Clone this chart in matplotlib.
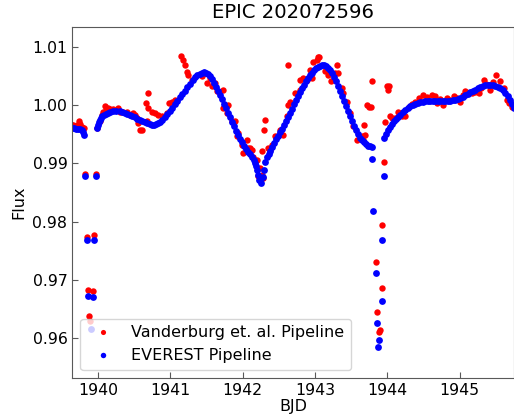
import matplotlib
matplotlib.use("Agg")
import matplotlib.pyplot as plt

# EVEREST light curve
everest_t = [
    1939.636, 1939.665, 1939.690, 1939.720, 1939.745, 1939.770, 1939.790, 1939.810,
    # points in the data gap
    1939.816, 1939.968, 1939.839, 1939.940, 1939.861, 1939.922, 1939.899,
    # second segment
    1939.982, 1939.996, 1940.010, 1940.024, 1940.037, 1940.058, 1940.079, 1940.107,
    1940.134, 1940.169, 1940.204, 1940.252, 1940.301, 1940.335, 1940.370, 1940.404,
    1940.439, 1940.474, 1940.508, 1940.543, 1940.578, 1940.612, 1940.647, 1940.681,
    1940.716, 1940.744, 1940.771, 1940.799, 1940.827, 1940.855, 1940.889, 1940.924,
    1940.958, 1940.993, 1941.028, 1941.062, 1941.097, 1941.132, 1941.166, 1941.201,
    1941.235, 1941.270, 1941.305, 1941.339, 1941.374, 1941.408, 1941.436, 1941.464,
    1941.491, 1941.519, 1941.547, 1941.575, 1941.602, 1941.630, 1941.658, 1941.685,
    1941.713, 1941.741, 1941.769, 1941.796, 1941.824, 1941.852, 1941.880, 1941.907,
    1941.935, 1941.963, 1941.990, 1942.018, 1942.046, 1942.073, 1942.101, 1942.129,
    1942.150, 1942.170, 1942.184, 1942.198, 1942.212, 1942.226, 1942.253, 1942.281,
    1942.295, 1942.309, 1942.337, 1942.357, 1942.378, 1942.405, 1942.433, 1942.461,
    1942.489, 1942.516, 1942.544, 1942.572, 1942.600, 1942.627, 1942.655, 1942.683,
    1942.710, 1942.738, 1942.766, 1942.793, 1942.821, 1942.849, 1942.877, 1942.904,
    1942.932, 1942.960, 1942.987, 1943.015, 1943.043, 1943.070, 1943.098, 1943.126,
    1943.153, 1943.181, 1943.209, 1943.236, 1943.264, 1943.292, 1943.320, 1943.347,
    1943.375, 1943.403, 1943.431, 1943.458, 1943.486, 1943.514, 1943.541, 1943.569,
    1943.597, 1943.624, 1943.652, 1943.680, 1943.708, 1943.735, 1943.763, 1943.784,
    # points in the second gap
    1943.795, 1943.953, 1943.805, 1943.929, 1943.846, 1943.929, 1943.856, 1943.892, 1943.874,
    # third segment
    1943.957, 1943.985, 1944.013, 1944.040, 1944.068, 1944.096, 1944.124, 1944.151,
    1944.179, 1944.213, 1944.248, 1944.282, 1944.317, 1944.352, 1944.386, 1944.421,
    1944.456, 1944.490, 1944.525, 1944.559, 1944.594, 1944.629, 1944.663, 1944.698,
    1944.733, 1944.767, 1944.802, 1944.836, 1944.871, 1944.906, 1944.940, 1944.975,
    1945.009, 1945.044, 1945.079, 1945.113, 1945.148, 1945.183, 1945.217, 1945.252,
    1945.286, 1945.321, 1945.356, 1945.390, 1945.425, 1945.460, 1945.494, 1945.529,
    1945.564, 1945.598, 1945.633, 1945.667, 1945.702, 1945.730, 1945.757,
]
everest_f = [
    0.99613, 0.99605, 0.99596, 0.99596, 0.99588, 0.99579, 0.99545, 0.99493,
    0.98777, 0.98777, 0.97689, 0.97689, 0.96732, 0.96698, 0.96160,
    0.99613, 0.99665, 0.99717, 0.99751, 0.99777, 0.99811, 0.99837, 0.99854,
    0.99871, 0.99888, 0.99906, 0.99906, 0.99897, 0.99880, 0.99863, 0.99845,
    0.99828, 0.99811, 0.99794, 0.99772, 0.99751, 0.99729, 0.99708, 0.99691,
    0.99674, 0.99665, 0.99665, 0.99674, 0.99694, 0.99717, 0.99751, 0.99794,
    0.99845, 0.99906, 0.99960, 1.00017, 1.00077, 1.00137, 1.00192, 1.00249,
    1.00309, 1.00369, 1.00426, 1.00481, 1.00515, 1.00541, 1.00558, 1.00567,
    1.00558, 1.00541, 1.00507, 1.00455, 1.00387, 1.00318, 1.00249, 1.00180,
    1.00103, 1.00026, 0.99948, 0.99871, 0.99794, 0.99717, 0.99639, 0.99562,
    0.99493, 0.99424, 0.99364, 0.99304, 0.99253, 0.99201, 0.99158, 0.99115,
    0.99064, 0.99012, 0.98952, 0.98892, 0.98806, 0.98720, 0.98669, 0.98772,
    0.98892, 0.99029, 0.99115, 0.99167, 0.99218, 0.99287, 0.99356, 0.99416,
    0.99476, 0.99536, 0.99596, 0.99660, 0.99725, 0.99794, 0.99863, 0.99940,
    1.00017, 1.00089, 1.00163, 1.00227, 1.00292, 1.00352, 1.00412, 1.00464,
    1.00515, 1.00558, 1.00601, 1.00632, 1.00661, 1.00679, 1.00687, 1.00684,
    1.00670, 1.00644, 1.00610, 1.00553, 1.00490, 1.00412, 1.00335, 1.00249,
    1.00163, 1.00077, 0.99991, 0.99906, 0.99820, 0.99734, 0.99648, 0.99570,
    0.99502, 0.99445, 0.99399, 0.99361, 0.99330, 0.99308, 0.99296, 0.99287,
    0.99081, 0.98789, 0.98187, 0.97689, 0.97127, 0.96641, 0.96251, 0.95966, 0.95839,
    0.99442, 0.99510, 0.99579, 0.99631, 0.99682, 0.99725, 0.99768, 0.99802,
    0.99837, 0.99880, 0.99923, 0.99954, 0.99983, 1.00005, 1.00026, 1.00040,
    1.00052, 1.00060, 1.00069, 1.00074, 1.00077, 1.00077, 1.00077, 1.00077,
    1.00077, 1.00074, 1.00074, 1.00074, 1.00077, 1.00084, 1.00094, 1.00108,
    1.00129, 1.00149, 1.00172, 1.00198, 1.00223, 1.00246, 1.00266, 1.00289,
    1.00309, 1.00326, 1.00344, 1.00352, 1.00352, 1.00347, 1.00335, 1.00318,
    1.00292, 1.00258, 1.00215, 1.00158, 1.00094, 1.00026, 0.99957,
]

# Vanderburg et al. light curve (visible points)
vand_t = [
    1939.636, 1939.657, 1939.677, 1939.705, 1939.737, 1939.753, 1939.774, 1939.802,
    1939.816, 1939.968, 1939.843, 1939.940, 1939.857, 1939.927, 1939.875, 1939.892,
    1939.978, 1940.024, 1940.047, 1940.065, 1940.093, 1940.107, 1940.134, 1940.162,
    1940.208, 1940.245, 1940.277, 1940.301, 1940.342, 1940.393, 1940.439, 1940.481,
    1940.508, 1940.532, 1940.554, 1940.578, 1940.601, 1940.661, 1940.670, 1940.693,
    1940.693, 1940.740, 1940.785, 1940.831, 1940.878, 1940.947, 1940.983, 1941.017,
    1941.062, 1941.145, 1941.177, 1941.201, 1941.224, 1941.247, 1941.294, 1941.432,
    1941.478, 1941.501, 1941.547, 1941.571, 1941.616, 1941.640, 1941.731, 1941.731,
    1941.778, 1941.801, 1941.848, 1941.893, 1941.917, 1941.939, 1941.986, 1942.008,
    1942.055, 1942.078, 1942.101, 1942.125, 1942.147, 1942.170, 1942.194, 1942.216,
    1942.239, 1942.263, 1942.285, 1942.263, 1942.299, 1942.309, 1942.355, 1942.378,
    1942.402, 1942.447, 1942.493, 1942.517, 1942.562, 1942.609, 1942.623, 1942.632,
    1942.655, 1942.724, 1942.793, 1942.793, 1942.839, 1942.886, 1942.932, 1942.956,
    1942.978, 1943.025, 1943.047, 1943.061, 1943.140, 1943.186, 1943.219, 1943.279,
    1943.302, 1943.324, 1943.371, 1943.393, 1943.440, 1943.486, 1943.532, 1943.579,
    1943.648, 1943.670, 1943.684, 1943.694, 1943.717, 1943.753, 1943.777, 1943.795,
    1943.953, 1943.929, 1943.846, 1943.929, 1943.860, 1943.902, 1943.880,
    1943.971, 1943.994, 1944.026, 1944.017, 1944.040, 1944.064, 1944.109, 1944.155,
    1944.202, 1944.248, 1944.294, 1944.345, 1944.386, 1944.442, 1944.501, 1944.553,
    1944.618, 1944.663, 1944.687, 1944.733, 1944.778, 1944.825, 1944.871, 1944.917,
    1944.968, 1945.009, 1945.051, 1945.079, 1945.120, 1945.172, 1945.217, 1945.263,
    1945.300, 1945.332, 1945.369, 1945.402, 1945.425, 1945.467, 1945.508, 1945.564,
    1945.609, 1945.656, 1945.688, 1945.726,
]
vand_f = [
    0.99665, 0.99656, 0.99648, 0.99665, 0.99734, 0.99682, 0.99631, 0.99613,
    0.98818, 0.98823, 0.97736, 0.97775, 0.96830, 0.96801, 0.96372, 0.96286,
    0.99608, 0.99722, 0.99837, 0.99888, 0.99991, 0.99923, 0.99957, 0.99931,
    0.99935, 0.99923, 0.99952, 0.99893, 0.99888, 0.99893, 0.99837, 0.99871,
    0.99837, 0.99780, 0.99694, 0.99579, 0.99579, 1.00038, 0.99722, 1.00210,
    0.99952, 0.99893, 0.99866, 0.99837, 0.99808, 0.99866, 1.00038, 1.00065,
    1.00094, 1.00850, 1.00782, 1.00696, 1.00564, 1.00524, 1.00438, 1.00495,
    1.00553, 1.00381, 1.00467, 1.00323, 1.00381, 1.00237, 1.00266, 0.99952,
    0.99866, 1.00009, 0.99722, 0.99722, 0.99464, 0.99522, 0.99321, 0.99179,
    0.99407, 0.99265, 0.99265, 0.99235, 0.99120, 0.99064, 0.99064, 0.98777,
    0.98921, 0.98806, 0.98749, 0.99206, 0.99579, 0.99739, 0.99265, 0.99235,
    0.99321, 0.99464, 0.99464, 0.99579, 0.99493, 0.99808, 1.00696, 1.00009,
    1.00065, 1.00210, 1.00266, 1.00438, 1.00467, 1.00438, 1.00610, 1.00467,
    1.00752, 1.00782, 1.00821, 1.00828, 1.00581, 1.00524, 1.00409, 1.00553,
    1.00696, 1.00553, 1.00295, 1.00210, 1.00065, 0.99866, 0.99636, 0.99407,
    0.99476, 0.99407, 0.99660, 0.99493, 1.00009, 0.99979, 0.99962, 1.00421,
    0.99034, 0.97942, 0.97299, 0.96853, 0.96457, 0.96138, 0.96097,
    0.99705, 1.00323, 1.00335, 1.00266, 0.99808, 0.99780, 0.99785, 0.99893,
    0.99808, 0.99808, 0.99979, 1.00026, 1.00065, 1.00129, 1.00180, 1.00146,
    1.00180, 1.00151, 1.00038, 1.00112, 1.00009, 1.00124, 1.00094, 1.00151,
    1.00129, 1.00065, 1.00180, 1.00237, 1.00215, 1.00210, 1.00232, 1.00210,
    1.00301, 1.00438, 1.00369, 1.00352, 1.00266, 1.00404, 1.00524, 1.00409,
    1.00295, 1.00094, 1.00043, 0.99979,
]

title = "EPIC 202072596"
xticks = [1940, 1941, 1942, 1943, 1944, 1945]
yticks = [0.96, 0.97, 0.98, 0.99, 1.00, 1.01]

fig = plt.figure(figsize=(5.14, 4.16), dpi=100)
ax = fig.add_axes([0.1407, 0.0921, 0.8588, 0.8437])

ax.plot(vand_t, vand_f, "o", color="red", ms=4.6, mew=0, label="Vanderburg et. al. Pipeline")
ax.plot(everest_t, everest_f, "o", color="blue", ms=4.9, mew=0, label="EVEREST Pipeline")

ax.set_xlim(1939.642, 1945.75)
ax.set_ylim(0.9532, 1.0135)
ax.set_xticks(xticks)
ax.set_yticks(yticks)
ax.set_yticklabels(["%.2f" % v for v in yticks])

for s in ax.spines.values():
    s.set_color("0.35")
ax.tick_params(direction="in", length=4, color="0.35", labelsize=11.3)

ax.set_title(title, fontsize=14.1)
ax.set_xlabel("BJD", fontsize=11.5, labelpad=1)
ax.set_ylabel("Flux", fontsize=11.5)

ax.legend(loc="lower left", fontsize=11.5, markerscale=0.8, numpoints=1)

fig.savefig("out.png", dpi=100)
